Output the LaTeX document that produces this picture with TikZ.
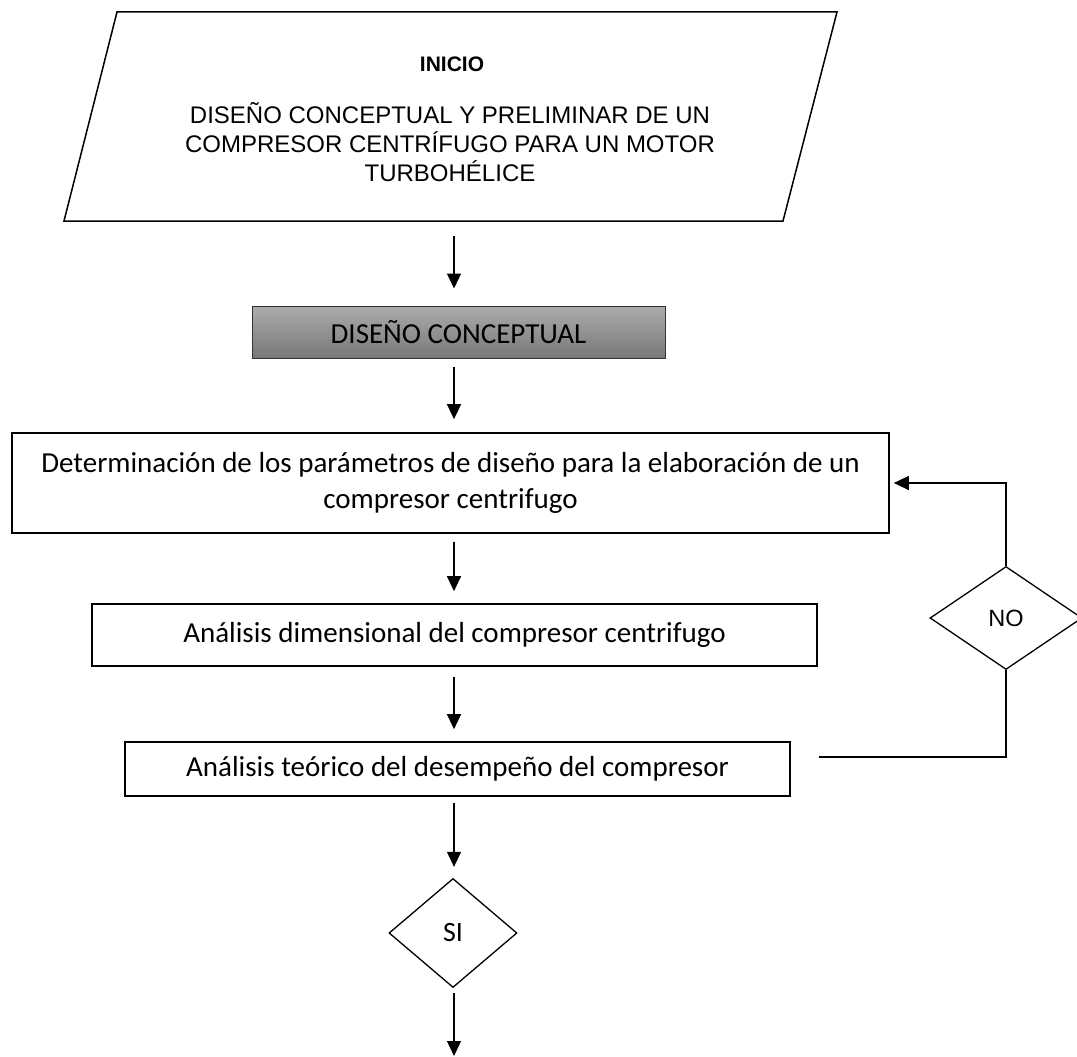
\documentclass[tikz,border=0pt]{standalone}
\usepackage{fontspec}
\setmainfont{Carlito}
\newfontfamily\arialfont{Liberation Sans}
\usetikzlibrary{shapes.geometric,arrows.meta}
\definecolor{grisclaro}{RGB}{172,172,172}
\definecolor{grisoscuro}{RGB}{120,120,120}

\begin{document}
\begin{tikzpicture}
	[   x=1pt,y=-1pt,
	    pbox/.style={draw=black,line width=1.7pt,minimum width=#1,inner sep=0pt,align=center,font=\fontsize{29}{36}\selectfont},
	    dnode/.style={draw=black,line width=1.3pt,diamond,inner sep=0pt},
	]
	\tikzset{normal arrow/.style={draw,line width=1.3pt,-{Triangle[length=15pt,width=14pt]}}}
	\useasboundingbox (0,0) rectangle (1077,1057);
	\clip (0,0) rectangle (1077,1057);
	\coordinate (eje) at (454,0);
	
	% entrada
	\draw[line width=1.5pt] (117,12) -- (837,12) -- (783,221) -- (64,221) -- cycle;
	\node[font=\arialfont\bfseries\fontsize{21}{25}\selectfont] (inicio) at (452,64) {INICIO};
	\node[align=center,font=\arialfont\fontsize{24}{29}\selectfont] (titulo) at (450,142) {DISEÑO CONCEPTUAL Y PRELIMINAR DE UN\\COMPRESOR CENTRÍFUGO PARA UN MOTOR\\TURBOHÉLICE};
	\coordinate (inicio-b) at (454,221);
	
	\node[pbox=413pt,minimum height=52pt,line width=1pt,draw=black!80,top color=grisclaro,bottom color=grisoscuro] (concepto) at (458.5,332) {DISEÑO CONCEPTUAL};
	\node[pbox=877pt,minimum height=100pt] (param) at (450.5,483) {Determinación de los parámetros de diseño para la elaboración de un\\compresor centrifugo};
	\node[pbox=725pt,minimum height=62pt] (dimen) at (454.5,635) {Análisis dimensional del compresor centrifugo};
	\node[pbox=665pt,minimum height=54pt] (teorico) at (457.5,769) {Análisis teórico del desempeño del compresor};
	
	\node[dnode,minimum width=152pt,minimum height=103pt,font=\arialfont\fontsize{23.5}{27}\selectfont] (no) at (1006,618) {NO};
	\node[dnode,minimum width=128pt,minimum height=109pt,font=\fontsize{28}{34}\selectfont] (si) at (453,933) {SI};
	\coordinate (lazo) at (819,757);
	\coordinate (fin) at (454,1057);
	
	\path[normal arrow,shorten <=15pt,shorten >=17pt] (inicio-b) -- (concepto.north -| eje);
	\path[normal arrow,shorten <=8pt,shorten >=13pt] (concepto.south -| eje) -- (param.north -| eje);
	\path[normal arrow,shorten <=8pt,shorten >=12pt] (param.south -| eje) -- (dimen.north -| eje);
	\path[normal arrow,shorten <=10pt,shorten >=12pt] (dimen.south -| eje) -- (teorico.north -| eje);
	\path[normal arrow,shorten <=6pt,shorten >=11pt] (teorico.south -| eje) -- (si.north -| eje);
	\path[normal arrow,shorten <=5pt,shorten >=1pt] (si.south -| eje) -- (fin);
	
	% vuelta por NO
	\draw[line width=1.3pt] (lazo) -| (no.south);
	\path[normal arrow,shorten >=4pt] (no.north) |- (param.east);
\end{tikzpicture}
\end{document}
